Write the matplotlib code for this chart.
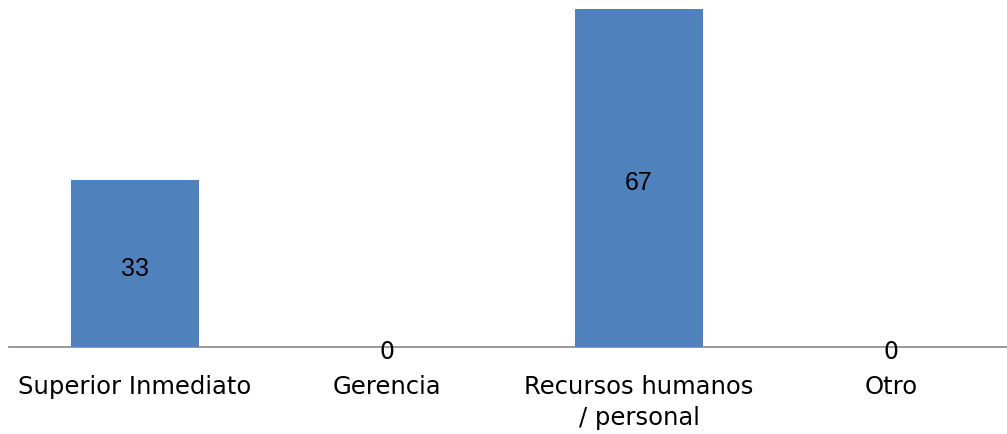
import matplotlib.pyplot as plt

categories = ['Superior Inmediato', 'Gerencia', 'Recursos humanos\n/ personal', 'Otro']
values = [33, 0, 67, 0]

BAR_COLOR = '#4F81BD'


def draw_chart(categories, values):
    fig = plt.figure(figsize=(10.07, 4.35), dpi=100)
    # axes run slightly past the right edge so the last category sits where it should
    ax = fig.add_axes([9 / 1007, 87.5 / 435, 998 / 1007, 347.5 / 435])
    x = list(range(len(categories)))
    bars = ax.bar(x, values, width=0.51, color=BAR_COLOR, zorder=2)

    ax.set_xlim(-0.5, -0.5 + 998 / 252)
    ax.set_ylim(0, 69)

    for rect, v in zip(bars, values):
        cx = rect.get_x() + rect.get_width() / 2
        if v > 0:
            ax.text(cx, v / 2 - 0.4, str(v), ha='center', va='center_baseline',
                    fontsize=18, family='Liberation Sans', color='#000000')
        else:
            ax.text(cx, -0.9, str(v), ha='center', va='center',
                    fontsize=17, family='DejaVu Sans', color='#000000',
                    zorder=3, clip_on=False)

    for side in ['top', 'right', 'left']:
        ax.spines[side].set_visible(False)
    ax.spines['bottom'].set_color('#868686')
    ax.spines['bottom'].set_linewidth(1.2)
    ax.spines['bottom'].set_zorder(1)

    ax.set_yticks([])
    ax.set_xticks(x)
    ax.set_xticklabels(categories, fontsize=17.5, family='DejaVu Sans',
                       color='#000000', linespacing=1.35)
    ax.tick_params(axis='x', length=0, pad=20)

    fig.savefig('out.png', dpi=100)


if __name__ == "__main__":
    draw_chart(categories, values)
